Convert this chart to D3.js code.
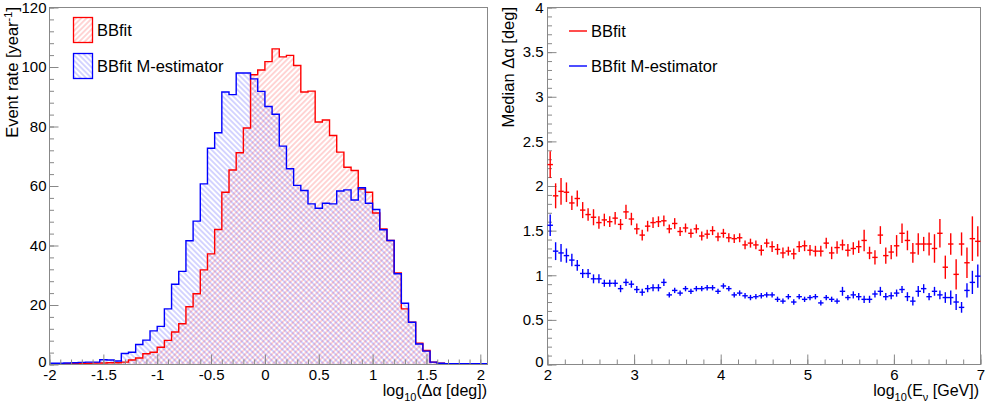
<!DOCTYPE html>
<html>
<head>
<meta charset="utf-8">
<script src="https://cdn.jsdelivr.net/npm/d3@7"></script>
<style>
  body { margin: 0; background: #fff; }
  svg { font-family: "Liberation Sans", Arial, sans-serif; }
</style>
</head>
<body>
<div id="wrapper"></div>
<script>
// ---- data: left panel, event rate per log10(dalpha) bin (61 bins of 1/15 starting at -2)
const binLow = -2;
const binWidth = 1 / 15;
const rateBBfit = [
  0.3, 0.3, 0.3, 0.3, 0.4, 0.4, 0.5, 0.5, 0.6, 0.6,
  0.8, 1.5, 2.2, 3.6, 4.1, 5.8, 8.1, 10.9, 13.7, 19.4,
  23.8, 31.8, 37.2, 45.4, 57.9, 65.4, 71.2, 79.5, 97.4, 99.0,
  101.8, 106.1, 103.4, 103.9, 100.5, 91.6, 91.9, 81.5, 82.2, 77.0,
  71.4, 66.3, 65.2, 59.0, 57.9, 50.9, 45.6, 41.7, 30.8, 18.7,
  14.2, 7.2, 4.7, 0.8, 0.4, 0.3, 0.3, 0.3, 0.3, 0.3, 0.3
];
const rateMest = [
  0.4, 0.4, 0.5, 0.6, 0.7, 0.8, 0.8, 1.6, 1.5, 1.2,
  3.7, 4.1, 6.7, 8.2, 11.3, 12.8, 18.7, 27.0, 31.3, 41.6,
  48.2, 60.7, 72.7, 77.9, 91.6, 90.7, 98.0, 98.0, 96.0, 91.8,
  86.7, 84.1, 73.4, 65.8, 60.2, 58.5, 54.0, 52.5, 54.2, 54.0,
  58.3, 58.7, 55.3, 59.4, 54.2, 52.1, 45.3, 41.7, 30.5, 20.6,
  14.2, 6.9, 4.5, 0.8, 0.4, 0.3, 0.3, 0.3, 0.3, 0.3, 0.3
];

// ---- data: right panel, median dalpha per log10(E) bin (80 bins of 0.0625 from 2)
const energyLow = 2;
const energyBinWidth = 0.0625;
const medianBBfit = [
  2.24, 1.89, 1.94, 1.93, 1.81, 1.86, 1.73, 1.68, 1.65, 1.59,
  1.62, 1.60, 1.64, 1.57, 1.71, 1.63, 1.52, 1.45, 1.55, 1.59,
  1.60, 1.61, 1.52, 1.58, 1.49, 1.53, 1.47, 1.52, 1.44, 1.46,
  1.50, 1.43, 1.47, 1.42, 1.41, 1.42, 1.34, 1.36, 1.34, 1.28,
  1.36, 1.32, 1.29, 1.25, 1.27, 1.24, 1.32, 1.33, 1.28, 1.27,
  1.27, 1.36, 1.25, 1.31, 1.34, 1.28, 1.30, 1.32, 1.39, 1.25,
  1.20, 1.45, 1.22, 1.26, 1.33, 1.47, 1.39, 1.25, 1.35, 1.35,
  1.35, 1.30, 1.47, 1.09, 1.35, 1.01, 1.35, 1.14, 1.41, 1.38
];
const errBBfit = [
  0.15, 0.14, 0.15, 0.11, 0.08, 0.09, 0.09, 0.07, 0.09, 0.07,
  0.07, 0.06, 0.07, 0.06, 0.08, 0.07, 0.06, 0.06, 0.06, 0.06,
  0.06, 0.06, 0.05, 0.06, 0.05, 0.05, 0.05, 0.05, 0.05, 0.05,
  0.05, 0.05, 0.05, 0.05, 0.05, 0.05, 0.05, 0.05, 0.05, 0.06,
  0.05, 0.06, 0.06, 0.06, 0.05, 0.06, 0.06, 0.06, 0.06, 0.06,
  0.06, 0.06, 0.07, 0.07, 0.06, 0.07, 0.07, 0.07, 0.12, 0.07,
  0.08, 0.10, 0.09, 0.08, 0.12, 0.11, 0.11, 0.11, 0.12, 0.08,
  0.13, 0.16, 0.16, 0.13, 0.12, 0.17, 0.13, 0.17, 0.25, 0.17
];
const medianMest = [
  1.56, 1.27, 1.25, 1.22, 1.17, 1.11, 1.02, 1.02, 0.96, 0.96,
  0.91, 0.91, 0.91, 0.85, 0.92, 0.90, 0.84, 0.81, 0.85, 0.86,
  0.86, 0.92, 0.78, 0.83, 0.80, 0.85, 0.82, 0.85, 0.85, 0.86,
  0.86, 0.82, 0.88, 0.85, 0.78, 0.80, 0.77, 0.75, 0.76, 0.77,
  0.78, 0.78, 0.73, 0.71, 0.76, 0.70, 0.76, 0.73, 0.75, 0.76,
  0.69, 0.75, 0.73, 0.71, 0.82, 0.75, 0.78, 0.76, 0.73, 0.73,
  0.79, 0.82, 0.76, 0.77, 0.80, 0.84, 0.76, 0.71, 0.82, 0.85,
  0.76, 0.82, 0.78, 0.75, 0.75, 0.70, 0.64, 0.83, 0.92, 0.99
];
const errMest = [
  0.12, 0.10, 0.10, 0.08, 0.07, 0.06, 0.05, 0.05, 0.05, 0.05,
  0.04, 0.04, 0.04, 0.04, 0.04, 0.04, 0.04, 0.04, 0.04, 0.04,
  0.04, 0.04, 0.03, 0.03, 0.03, 0.03, 0.03, 0.03, 0.03, 0.03,
  0.03, 0.03, 0.03, 0.03, 0.03, 0.03, 0.03, 0.03, 0.03, 0.03,
  0.03, 0.03, 0.03, 0.03, 0.03, 0.03, 0.03, 0.03, 0.03, 0.03,
  0.03, 0.03, 0.03, 0.03, 0.05, 0.03, 0.04, 0.04, 0.04, 0.04,
  0.04, 0.05, 0.04, 0.04, 0.04, 0.04, 0.05, 0.05, 0.06, 0.05,
  0.04, 0.05, 0.05, 0.06, 0.08, 0.09, 0.06, 0.08, 0.13, 0.13
];
const legendLabels = ["BBfit", "BBfit M-estimator"];

const red = "#ff0000";
const blue = "#0000ff";
const axisColor = "#888";
const tickFont = "15px";

const svg = d3.select("#wrapper").append("svg")
  .attr("width", 985)
  .attr("height", 410);

// hatch patterns like ROOT 3004 / 3005: one line per tile, tile rotated
const defs = svg.append("defs");
function hatch(id, color, angle) {
  const p = defs.append("pattern")
    .attr("id", id)
    .attr("patternUnits", "userSpaceOnUse")
    .attr("width", 3.8)
    .attr("height", 10)
    .attr("patternTransform", `rotate(${angle})`);
  p.append("line")
    .attr("x1", 1.9).attr("x2", 1.9)
    .attr("y1", -1).attr("y2", 11)
    .attr("fill", "none")
    .attr("stroke", color)
    .attr("stroke-width", 0.8)
    .attr("stroke-opacity", 0.42);
}
hatch("hatchRed", red, 45);
hatch("hatchBlue", blue, -45);

// generic frame + axes in ROOT style (ticks inside)
function drawFrame(g, x, y, opt) {
  const [x0, x1] = x.range();
  const [y1, y0] = y.range();
  g.append("rect")
    .attr("x", x0).attr("y", y0)
    .attr("width", x1 - x0).attr("height", y1 - y0)
    .attr("fill", "none").attr("stroke", axisColor);

  const xMinor = g.append("g").attr("transform", `translate(0,${y1})`)
    .call(d3.axisBottom(x).tickValues(opt.xMinor).tickSize(-5).tickFormat(""));
  const xMajor = g.append("g").attr("transform", `translate(0,${y1})`)
    .call(d3.axisBottom(x).tickValues(opt.xMajor).tickSize(-10).tickPadding(5).tickFormat(d => String(d)));
  const yMinor = g.append("g").attr("transform", `translate(${x0},0)`)
    .call(d3.axisLeft(y).tickValues(opt.yMinor).tickSize(-4.5).tickFormat(""));
  const yMajor = g.append("g").attr("transform", `translate(${x0},0)`)
    .call(d3.axisLeft(y).tickValues(opt.yMajor).tickSize(-9).tickPadding(opt.yPad).tickFormat(d => String(d)));

  [xMinor, xMajor, yMinor, yMajor].forEach(a => {
    a.select(".domain").remove();
    a.selectAll("line").attr("stroke", axisColor);
    a.selectAll("text")
      .attr("fill", "#000")
      .style("font-family", "Liberation Sans, Arial, sans-serif")
      .style("font-size", tickFont);
  });
  // ROOT nudges the lowest y label up so it clears the x labels
  yMajor.selectAll(".tick").filter(d => d === 0).select("text").attr("dy", "0.1em");
}

// ---------------- left panel ----------------
const xLeft = d3.scaleLinear().domain([-2, binLow + binWidth * rateBBfit.length]).range([49.5, 487.5]);
const yLeft = d3.scaleLinear().domain([0, 120]).range([364.5, 7.5]);
const left = svg.append("g");

function stepPoints(values) {
  const pts = values.map((v, i) => [binLow + i * binWidth, v]);
  pts.push([binLow + values.length * binWidth, values[values.length - 1]]);
  return pts;
}
const histArea = d3.area()
  .x(d => xLeft(d[0])).y0(yLeft(0)).y1(d => yLeft(d[1]))
  .curve(d3.curveStepAfter);
const histLine = d3.line()
  .x(d => xLeft(d[0])).y(d => yLeft(d[1]))
  .curve(d3.curveStepAfter);

[[rateBBfit, "hatchRed"], [rateMest, "hatchBlue"]].forEach(([vals, pat]) => {
  left.append("path").attr("d", histArea(stepPoints(vals))).attr("fill", `url(#${pat})`);
});
[[rateBBfit, red], [rateMest, blue]].forEach(([vals, color]) => {
  left.append("path").attr("d", histLine(stepPoints(vals)))
    .attr("fill", "none").attr("stroke", color).attr("stroke-width", 1.4);
});

drawFrame(left, xLeft, yLeft, {
  xMajor: d3.range(-2, 2.01, 0.5),
  xMinor: d3.range(-20, 21, 1).map(d => d / 10),
  yMajor: d3.range(0, 121, 20),
  yMinor: d3.range(0, 121, 4),
  yPad: 3
});

// legend left
const legLeft = left.append("g");
[[red, "hatchRed"], [blue, "hatchBlue"]].forEach(([color, pat], i) => {
  legLeft.append("rect")
    .attr("x", 73.5).attr("y", 17.5 + i * 36)
    .attr("width", 19).attr("height", 25)
    .attr("fill", `url(#${pat})`).attr("stroke", color).attr("stroke-width", 1.3);
  legLeft.append("text")
    .attr("x", 97).attr("y", 30.5 + i * 36)
    .attr("dy", "0.35em")
    .style("font-size", "16.5px")
    .text(legendLabels[i]);
});

// titles left
const yTitleL = left.append("text")
  .attr("transform", "translate(18,7) rotate(-90)")
  .attr("text-anchor", "end")
  .style("font-size", "16.5px");
yTitleL.append("tspan").text("Event rate [year");
yTitleL.append("tspan").attr("dy", -6).style("font-size", "11px").text("-1");
yTitleL.append("tspan").attr("dy", 6).text("]");

const xTitleL = left.append("text")
  .attr("x", 487).attr("y", 396)
  .attr("text-anchor", "end")
  .style("font-size", "16px");
xTitleL.append("tspan").text("log");
xTitleL.append("tspan").attr("dy", 5).style("font-size", "11px").text("10");
xTitleL.append("tspan").attr("dy", -5).text("(\u0394\u03b1 [deg])");

// ---------------- right panel ----------------
const xRight = d3.scaleLinear().domain([2, 7]).range([547.5, 980.5]);
const yRight = d3.scaleLinear().domain([0, 4]).range([364.5, 7.5]);
const right = svg.append("g");

drawFrame(right, xRight, yRight, {
  xMajor: d3.range(2, 7.01, 1),
  xMinor: d3.range(10, 36, 1).map(d => d / 5),
  yMajor: d3.range(0, 9, 1).map(d => d / 2),
  yMinor: d3.range(0, 41, 1).map(d => d / 10),
  yPad: 4
});

function drawPoints(medians, errs, color) {
  const pts = medians.map((m, i) => ({
    lo: energyLow + i * energyBinWidth,
    hi: energyLow + (i + 1) * energyBinWidth,
    m, e: errs[i]
  }));
  const g = right.append("g").attr("stroke", color).attr("stroke-width", 1.4);
  g.selectAll(".v").data(pts).join("line")
    .attr("x1", d => xRight((d.lo + d.hi) / 2)).attr("x2", d => xRight((d.lo + d.hi) / 2))
    .attr("y1", d => yRight(d.m - d.e)).attr("y2", d => yRight(d.m + d.e));
  g.selectAll(".h").data(pts).join("line")
    .attr("x1", d => xRight(d.lo)).attr("x2", d => xRight(d.hi))
    .attr("y1", d => yRight(d.m)).attr("y2", d => yRight(d.m));
}
drawPoints(medianBBfit, errBBfit, red);
drawPoints(medianMest, errMest, blue);

// legend right
[red, blue].forEach((color, i) => {
  right.append("line")
    .attr("x1", 569).attr("x2", 587)
    .attr("y1", 31 + i * 35).attr("y2", 31 + i * 35)
    .attr("stroke", color).attr("stroke-width", 1.4);
  right.append("text")
    .attr("x", 591).attr("y", 31 + i * 35)
    .attr("dy", "0.35em")
    .style("font-size", "16.5px")
    .text(legendLabels[i]);
});

// titles right
right.append("text")
  .attr("transform", "translate(514,7) rotate(-90)")
  .attr("text-anchor", "end")
  .style("font-size", "16.5px")
  .text("Median \u0394\u03b1 [deg]");

const xTitleR = right.append("text")
  .attr("x", 979).attr("y", 396)
  .attr("text-anchor", "end")
  .style("font-size", "16px");
xTitleR.append("tspan").text("log");
xTitleR.append("tspan").attr("dy", 5).style("font-size", "11px").text("10");
xTitleR.append("tspan").attr("dy", -5).text("(E");
xTitleR.append("tspan").attr("dy", 5).style("font-size", "11px").text("\u03bd");
xTitleR.append("tspan").attr("dy", -5).text(" [GeV])");
</script>
</body>
</html>
